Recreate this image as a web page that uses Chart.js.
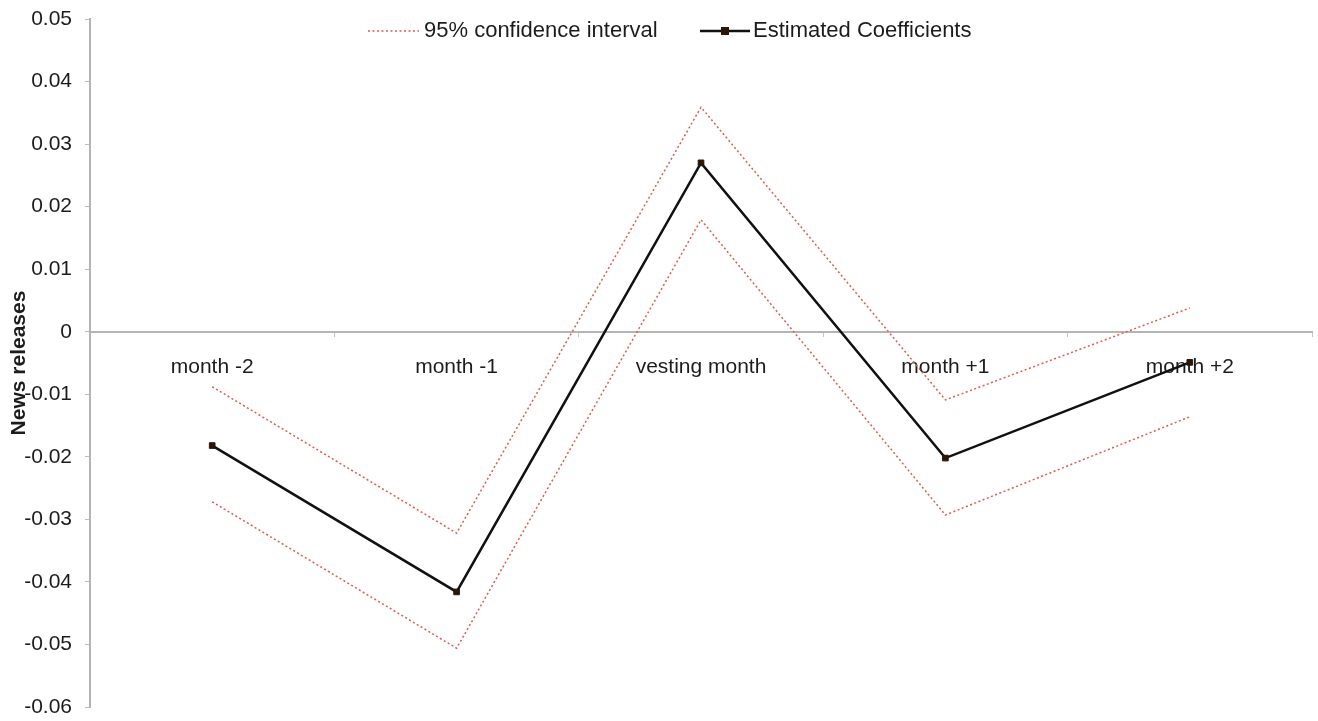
<!DOCTYPE html>
<html lang="en">
<head>
    <meta charset="UTF-8">
    <title>News releases around the vesting month</title>
    <script src="https://cdn.jsdelivr.net/npm/chart.js"></script>
    <style>
        html, body {
            margin: 0;
            padding: 0;
            background: #ffffff;
        }
        .chart-box {
            width: 1318px;
            height: 721px;
        }
    </style>
</head>
<body>
    <div class="chart-box">
        <canvas id="newsChart"></canvas>
    </div>

    <script>
        const months = ['month -2', 'month -1', 'vesting month', 'month +1', 'month +2'];
        const estimated = [-0.0182, -0.0416, 0.0270, -0.0202, -0.0049];
        const upperBound = [-0.0088, -0.0322, 0.0359, -0.0109, 0.0038];
        const lowerBound = [-0.0272, -0.0506, 0.0179, -0.0293, -0.0136];

        const FONT = '"Liberation Sans", Arial, Helvetica, sans-serif';
        const TEXT = '#1c1c1c';
        const CI_RED = '#df5b52';

        // legend sits inside the plot area, so it is drawn by hand
        const insideLegend = {
            id: 'insideLegend',
            afterDraw(chart) {
                const ctx = chart.ctx;
                const y = 31;
                ctx.save();
                ctx.font = '22px ' + FONT;
                ctx.textBaseline = 'middle';
                ctx.fillStyle = TEXT;

                // confidence interval entry
                ctx.strokeStyle = CI_RED;
                ctx.lineWidth = 1.5;
                ctx.setLineDash([2, 2.5]);
                ctx.beginPath();
                ctx.moveTo(368, y);
                ctx.lineTo(419, y);
                ctx.stroke();
                ctx.setLineDash([]);
                ctx.fillText(chart.data.datasets[0].label, 424, y);

                // coefficient entry
                ctx.strokeStyle = '#111';
                ctx.lineWidth = 2.5;
                ctx.beginPath();
                ctx.moveTo(700, y);
                ctx.lineTo(750, y);
                ctx.stroke();
                ctx.fillStyle = '#2a1708';
                ctx.fillRect(721, y - 4, 8, 8);
                ctx.fillStyle = TEXT;
                ctx.fillText(chart.data.datasets[2].label, 753, y);
                ctx.restore();
            }
        };

        const ctx = document.getElementById('newsChart').getContext('2d');

        new Chart(ctx, {
            type: 'line',
            data: {
                labels: months,
                datasets: [
                    {
                        label: '95% confidence interval',
                        data: upperBound,
                        borderColor: CI_RED,
                        borderWidth: 1.5,
                        borderDash: [2, 2.5],
                        pointRadius: 0,
                        fill: false,
                        tension: 0
                    },
                    {
                        label: '95% confidence interval (lower)',
                        data: lowerBound,
                        borderColor: CI_RED,
                        borderWidth: 1.5,
                        borderDash: [2, 2.5],
                        pointRadius: 0,
                        fill: false,
                        tension: 0
                    },
                    {
                        label: 'Estimated Coefficients',
                        data: estimated,
                        borderColor: '#111111',
                        borderWidth: 2.5,
                        pointStyle: 'rect',
                        pointRadius: 4,
                        pointBackgroundColor: '#2a1708',
                        pointBorderColor: '#2a1708',
                        pointBorderWidth: 1,
                        fill: false,
                        tension: 0
                    }
                ]
            },
            options: {
                responsive: true,
                maintainAspectRatio: false,
                animation: false,
                layout: {
                    padding: { left: 0, top: 19, right: 6, bottom: 14 }
                },
                plugins: {
                    legend: { display: false },
                    tooltip: { enabled: false }
                },
                scales: {
                    x: {
                        type: 'category',
                        offset: true,
                        position: { y: 0 },
                        afterFit(scale) {
                            scale.paddingLeft = 0;
                            scale.paddingRight = 0;
                        },
                        grid: {
                            offset: true,
                            drawOnChartArea: false,
                            drawTicks: true,
                            tickLength: 4,
                            color: '#c4c4c4'
                        },
                        border: {
                            display: true,
                            color: '#b4b4b4',
                            width: 2
                        },
                        ticks: {
                            padding: 19,
                            maxRotation: 0,
                            autoSkip: false,
                            color: TEXT,
                            font: { family: FONT, size: 21 }
                        }
                    },
                    y: {
                        min: -0.06,
                        max: 0.05,
                        afterFit(scale) {
                            scale.width = 90;
                            scale.paddingTop = 0;
                            scale.paddingBottom = 0;
                        },
                        grid: {
                            drawOnChartArea: false,
                            drawTicks: true,
                            tickLength: 5,
                            color: '#bdbdbd'
                        },
                        border: {
                            display: true,
                            color: '#b4b4b4',
                            width: 2
                        },
                        ticks: {
                            stepSize: 0.01,
                            padding: 13,
                            color: TEXT,
                            font: { family: FONT, size: 21 },
                            callback: v => String(Number(v.toFixed(2)))
                        },
                        title: {
                            display: true,
                            text: 'News releases',
                            color: TEXT,
                            padding: { top: 7, bottom: 0 },
                            font: { family: FONT, size: 21, weight: 'bold' }
                        }
                    }
                }
            },
            plugins: [insideLegend]
        });
    </script>
</body>
</html>
